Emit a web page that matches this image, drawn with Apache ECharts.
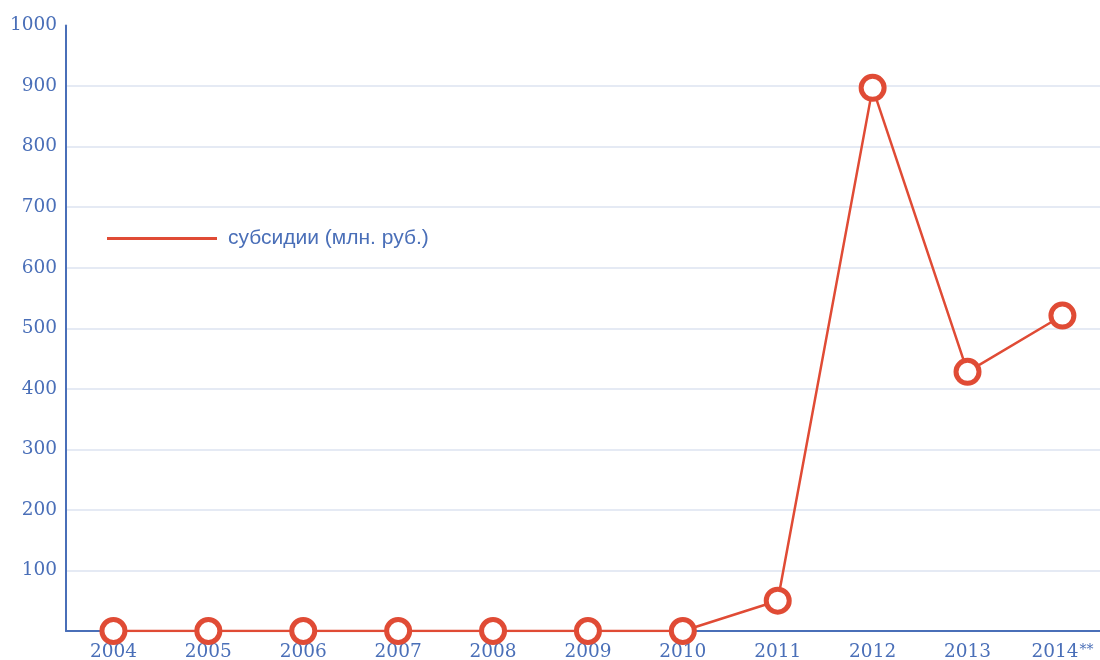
<!DOCTYPE html>
<html><head><meta charset="utf-8">
<script src="https://cdn.jsdelivr.net/npm/echarts@6/dist/echarts.min.js"></script>
<style>html,body{margin:0;padding:0;background:#fff}#c{width:1100px;height:660px}</style>
</head><body><div id="c"></div>
<script>
const categories = ['2004','2005','2006','2007','2008','2009','2010','2011','2012','2013','2014**'];
const subsidies = [0,0,0,0,0,0,0,50,897,428,521];
const seriesName = 'субсидии (млн. руб.)';
const yTicks = [0,100,200,300,400,500,600,700,800,900,1000];

const blue = '#4a6fb8';
const red = '#e04b35';
const catIdx = categories.map((c,i)=>i);
function fmtCat(v){
  const c = categories[Math.round(v)] || '';
  const m = c.match(/^(\d+)(\*+)$/);
  return m ? m[1] + '{s|' + m[2] + '}' : c;
}
const chart = echarts.init(document.getElementById('c'), null, {renderer:'canvas'});
chart.setOption({
  animation:false,
  backgroundColor:'#fff',
  grid:{left:66, top:25.5, bottom:29, right:0, outerBoundsMode:'none', containLabel:false},
  legend:{
    left:107, top:228, padding:0, icon:'rect', itemWidth:110, itemHeight:3,
    textStyle:{color:blue, fontFamily:'Liberation Sans', fontSize:21, padding:[0,0,0,6]},
    itemStyle:{color:red, borderWidth:0},
    data:[seriesName]
  },
  xAxis:{
    type:'value', min:-0.5, max:10.396,
    axisLine:{onZero:false, lineStyle:{color:blue, width:2}},
    axisTick:{show:false},
    splitLine:{show:false},
    axisLabel:{customValues:catIdx, showMinLabel:true, showMaxLabel:true,
      formatter:fmtCat,
      color:blue, fontFamily:'DejaVu Serif', fontSize:18.5, margin:12,
      rich:{s:{fontSize:14, fontFamily:'DejaVu Serif', color:blue, verticalAlign:'top', padding:[0,0,3,1]}}}
  },
  yAxis:{
    type:'value', min:yTicks[0], max:yTicks[yTicks.length-1], interval:100,
    axisLine:{show:true, onZero:false, lineStyle:{color:blue, width:2}},
    axisTick:{show:false},
    splitLine:{showMaxLine:false, lineStyle:{color:'#dde3f1', width:1.5}},
    axisLabel:{color:blue, fontFamily:'DejaVu Serif', fontSize:18.5, margin:9,
      formatter:v=> v===0?'':String(v)}
  },
  series:[{
    name:seriesName, type:'line', data:subsidies.map((v,i)=>[i,v]),
    symbol:'circle', symbolSize:23,
    lineStyle:{color:red, width:2.5},
    itemStyle:{color:'#fff', borderColor:red, borderWidth:5},
    z:3
  }]
});
</script></body></html>
